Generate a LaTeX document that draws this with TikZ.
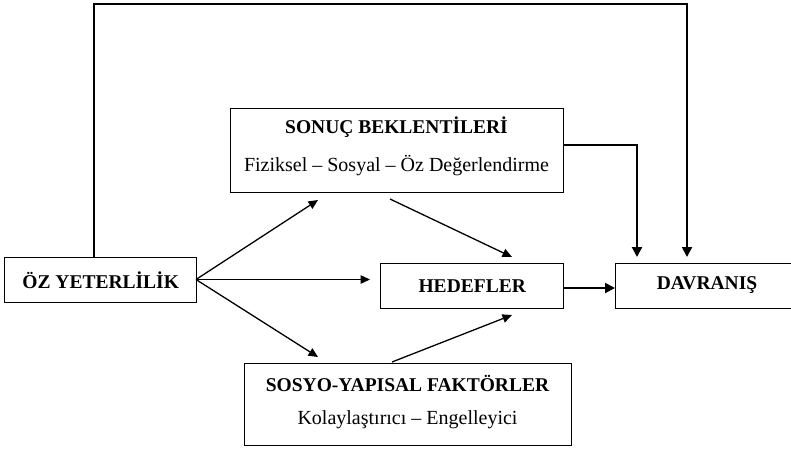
\documentclass[tikz,border=0pt]{standalone}
\usepackage{fontspec}
\setmainfont{Liberation Serif}
\usetikzlibrary{arrows.meta}
\begin{document}
\begin{tikzpicture}[x=1pt,y=-1pt,
  box/.style={draw,line width=1.4pt,inner sep=0pt},
  ttl/.style={font=\fontsize{19.5}{22}\selectfont\bfseries},
  sub/.style={font=\fontsize{20}{23}\selectfont},
  arr/.style={line width=1.3pt,-{Triangle[length=9.5pt,width=8.5pt]}},
  thk/.style={line width=2pt,-{Triangle[length=10pt,width=10pt]}}]
\path[use as bounding box] (0,0) rectangle (791,448);
\clip (0,0) rectangle (791,448);
% boxes
\node[box,minimum width=192pt,minimum height=45pt,anchor=north west] (oz) at (4,257) {};
\node[ttl] at (oz.center) {ÖZ YETERLİLİK};
\node[box,minimum width=333pt,minimum height=84pt,anchor=north west] (sonuc) at (230,108) {};
\node[ttl] at (396.5,127) {SONUÇ BEKLENTİLERİ};
\node[sub] at (396.5,166) {Fiziksel – Sosyal – Öz Değerlendirme};
\node[box,minimum width=183pt,minimum height=45pt,anchor=north west] (hedef) at (380,263) {};
\node[ttl] at (hedef.center) {HEDEFLER};
\node[box,minimum width=190pt,minimum height=45pt,anchor=north west] (davr) at (615,263) {};
\node[ttl] at (707,285.5) {DAVRANIŞ};
\node[box,minimum width=327pt,minimum height=82pt,anchor=north west] (sosyo) at (244,363) {};
\node[ttl] at (407.5,383) {SOSYO-YAPISAL FAKTÖRLER};
\node[sub] at (407.5,420) {Kolaylaştırıcı – Engelleyici};
% coordinates
\coordinate (ozr) at (196,279.5);
\coordinate (t1) at (318,200);
\coordinate (t2) at (370,279.5);
\coordinate (t3) at (318,357);
\coordinate (s1) at (390,199);
\coordinate (h1) at (512,257);
\coordinate (s2) at (392,362);
\coordinate (h2) at (512,315);
\coordinate (ozt) at (94,257);
\coordinate (c1) at (94,4);
\coordinate (c2) at (687,4);
\coordinate (d1) at (687,257);
\coordinate (se) at (563,145);
\coordinate (c3) at (637,145);
\coordinate (d2) at (637,257);
% connectors
\draw[arr] (ozr) -- (t1);
\draw[arr] (ozr) -- (t2);
\draw[arr] (ozr) -- (t3);
\draw[arr] (s1) -- (h1);
\draw[arr] (s2) -- (h2);
\draw[thk] (hedef.east |- 0,288) -- (davr.west |- 0,288);
\draw[thk] (se) -- (c3) -- (d2);
\draw[thk] (ozt) -- (c1) -- (c2) -- (d1);
\end{tikzpicture}
\end{document}
